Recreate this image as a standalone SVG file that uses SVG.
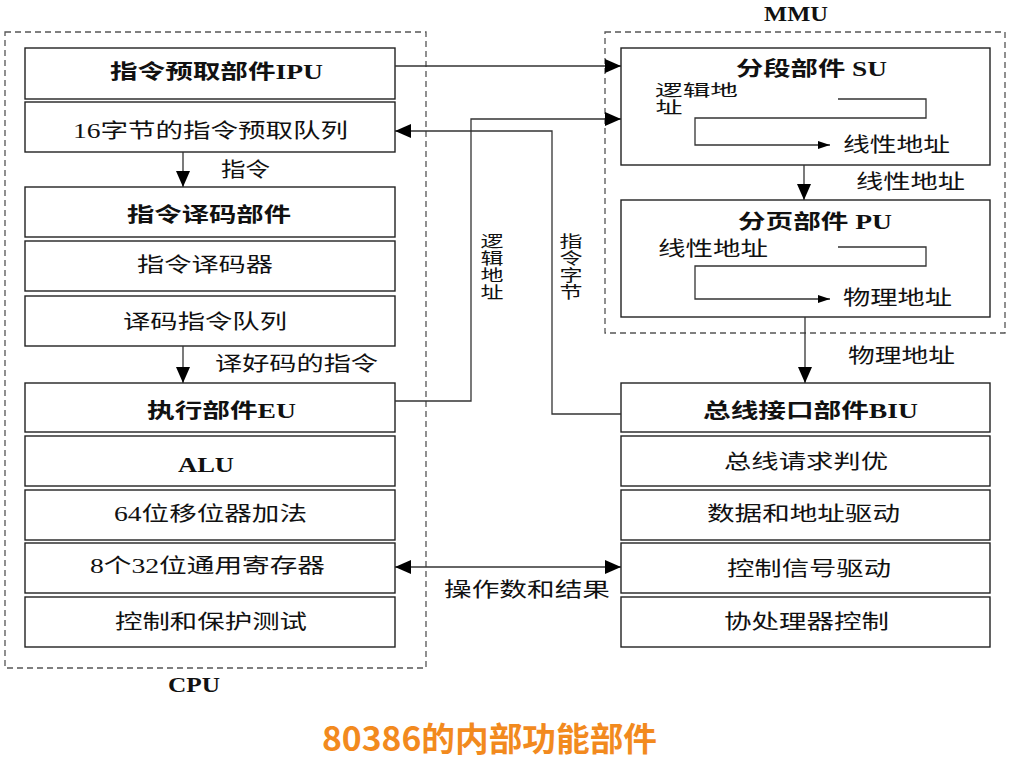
<svg xmlns="http://www.w3.org/2000/svg" width="1011" height="759" viewBox="0 0 1011 759">
<defs>
<marker id="ah" viewBox="0 0 16 14" refX="16" refY="7" markerWidth="16" markerHeight="14" markerUnits="userSpaceOnUse" orient="auto-start-reverse"><path d="M0,0 L16,7 L0,14 Z" fill="#000"/></marker>
<marker id="ahs" viewBox="0 0 12 8" refX="12" refY="4" markerWidth="12" markerHeight="8" markerUnits="userSpaceOnUse" orient="auto"><path d="M0,0 L12,4 L0,8 Z" fill="#000"/></marker>
<style>
.box{fill:#fff;stroke:#222;stroke-width:1.4}
.dash{fill:none;stroke:#555;stroke-width:1.3;stroke-dasharray:6,4}
.ln{fill:none;stroke:#333;stroke-width:1.3}
.t{font-family:"Liberation Serif","Noto Sans CJK SC",serif;font-size:20px;fill:#111;text-anchor:middle;dominant-baseline:central}
.v{font-size:16px}
.b{font-weight:bold}
.title{font-family:"Noto Sans CJK SC","Liberation Sans",sans-serif;font-size:33px;font-weight:bold;fill:#F28A1E;text-anchor:middle;dominant-baseline:central}
</style>
</defs>
<rect width="1011" height="759" fill="#fff"/>

<g id="cpu-frame">
<rect class="dash" x="5" y="32" width="421" height="636"/>
<text class="t b" x="194" y="685" textLength="52" lengthAdjust="spacingAndGlyphs">CPU</text>
</g>
<g id="mmu-frame">
<rect class="dash" x="605" y="32" width="400" height="301"/>
<text class="t b" x="796" y="14" textLength="64" lengthAdjust="spacingAndGlyphs">MMU</text>
</g>

<g id="ipu"><rect class="box" x="25" y="48" width="370" height="51"/><text class="t b" x="216.5" y="72" textLength="213" lengthAdjust="spacingAndGlyphs">指令预取部件IPU</text></g>
<g id="prefetch-queue"><rect class="box" x="25" y="102" width="370" height="50"/><text class="t" x="210.5" y="131" textLength="275" lengthAdjust="spacingAndGlyphs">16字节的指令预取队列</text></g>
<g id="decode-unit"><rect class="box" x="25" y="187" width="370" height="50"/><text class="t b" x="209" y="215" textLength="164" lengthAdjust="spacingAndGlyphs">指令译码部件</text></g>
<g id="decoder"><rect class="box" x="25" y="241" width="370" height="50"/><text class="t" x="205" y="265" textLength="136" lengthAdjust="spacingAndGlyphs">指令译码器</text></g>
<g id="decoded-queue"><rect class="box" x="25" y="296" width="370" height="50"/><text class="t" x="205" y="322" textLength="164" lengthAdjust="spacingAndGlyphs">译码指令队列</text></g>
<g id="eu"><rect class="box" x="25" y="383" width="370" height="49"/><text class="t b" x="221.5" y="411" textLength="149" lengthAdjust="spacingAndGlyphs">执行部件EU</text></g>
<g id="alu"><rect class="box" x="25" y="436" width="370" height="50"/><text class="t b" x="206" y="465" textLength="56" lengthAdjust="spacingAndGlyphs">ALU</text></g>
<g id="shifter"><rect class="box" x="25" y="490" width="370" height="50"/><text class="t" x="210.5" y="514" textLength="193" lengthAdjust="spacingAndGlyphs">64位移位器加法</text></g>
<g id="registers"><rect class="box" x="25" y="543" width="370" height="50"/><text class="t" x="207.5" y="566" textLength="235" lengthAdjust="spacingAndGlyphs">8个32位通用寄存器</text></g>
<g id="protect"><rect class="box" x="25" y="597" width="370" height="50"/><text class="t" x="211" y="622" textLength="192" lengthAdjust="spacingAndGlyphs">控制和保护测试</text></g>

<g id="su">
<rect class="box" x="621" y="48" width="369" height="117"/>
<text class="t b" x="811.5" y="69" textLength="151" lengthAdjust="spacingAndGlyphs">分段部件 SU</text>
<text class="t v" x="696.5" y="90" textLength="83" lengthAdjust="spacingAndGlyphs">逻辑地</text>
<text class="t v" x="669" y="107" textLength="27" lengthAdjust="spacingAndGlyphs">址</text>
<path class="ln" d="M838,99 H926 V118 H695 V145 H830" marker-end="url(#ahs)"/>
<text class="t" x="896.5" y="145" textLength="107" lengthAdjust="spacingAndGlyphs">线性地址</text>
</g>
<g id="pu">
<rect class="box" x="621" y="200" width="369" height="117"/>
<text class="t b" x="815" y="222" textLength="154" lengthAdjust="spacingAndGlyphs">分页部件 PU</text>
<text class="t" x="713" y="249" textLength="110" lengthAdjust="spacingAndGlyphs">线性地址</text>
<path class="ln" d="M838,247 H926 V266 H695 V299 H830" marker-end="url(#ahs)"/>
<text class="t" x="897.5" y="298" textLength="109" lengthAdjust="spacingAndGlyphs">物理地址</text>
</g>

<g id="biu"><rect class="box" x="621" y="383" width="369" height="49"/><text class="t b" x="810.5" y="411" textLength="215" lengthAdjust="spacingAndGlyphs">总线接口部件BIU</text></g>
<g id="bus-arb"><rect class="box" x="621" y="436" width="369" height="50"/><text class="t" x="806" y="462" textLength="164" lengthAdjust="spacingAndGlyphs">总线请求判优</text></g>
<g id="addr-drive"><rect class="box" x="621" y="490" width="369" height="50"/><text class="t" x="803.5" y="514" textLength="193" lengthAdjust="spacingAndGlyphs">数据和地址驱动</text></g>
<g id="ctrl-drive"><rect class="box" x="621" y="543" width="369" height="50"/><text class="t" x="809" y="569" textLength="164" lengthAdjust="spacingAndGlyphs">控制信号驱动</text></g>
<g id="coproc"><rect class="box" x="621" y="597" width="369" height="50"/><text class="t" x="806.5" y="622" textLength="165" lengthAdjust="spacingAndGlyphs">协处理器控制</text></g>

<g id="connectors">
<path class="ln" d="M183,152 V187" marker-end="url(#ah)"/>
<text class="t" x="245.5" y="170" textLength="49" lengthAdjust="spacingAndGlyphs">指令</text>
<path class="ln" d="M183,346 V383" marker-end="url(#ah)"/>
<text class="t" x="296.5" y="364" textLength="163" lengthAdjust="spacingAndGlyphs">译好码的指令</text>
<path class="ln" d="M395,66 H621" marker-end="url(#ah)"/>
<path class="ln" d="M395,401 H471 V119 H621" marker-end="url(#ah)"/>
<text class="t v" x="492" y="241" textLength="23" lengthAdjust="spacingAndGlyphs">逻</text>
<text class="t v" x="492" y="258" textLength="23" lengthAdjust="spacingAndGlyphs">辑</text>
<text class="t v" x="492" y="275" textLength="23" lengthAdjust="spacingAndGlyphs">地</text>
<text class="t v" x="492" y="292" textLength="23" lengthAdjust="spacingAndGlyphs">址</text>
<path class="ln" d="M621,414 H552 V131 H395" marker-end="url(#ah)"/>
<text class="t v" x="571" y="241" textLength="23" lengthAdjust="spacingAndGlyphs">指</text>
<text class="t v" x="571" y="258" textLength="23" lengthAdjust="spacingAndGlyphs">令</text>
<text class="t v" x="571" y="275" textLength="23" lengthAdjust="spacingAndGlyphs">字</text>
<text class="t v" x="571" y="292" textLength="23" lengthAdjust="spacingAndGlyphs">节</text>
<path class="ln" d="M804,165 V200" marker-end="url(#ah)"/>
<text class="t" x="910.5" y="182" textLength="109" lengthAdjust="spacingAndGlyphs">线性地址</text>
<path class="ln" d="M805,317 V383" marker-end="url(#ah)"/>
<text class="t" x="901.5" y="356" textLength="107" lengthAdjust="spacingAndGlyphs">物理地址</text>
<path class="ln" d="M395,567 H621" marker-start="url(#ah)" marker-end="url(#ah)"/>
<text class="t" x="527" y="590" textLength="166" lengthAdjust="spacingAndGlyphs">操作数和结果</text>
</g>

<text class="title" x="489.5" y="737" textLength="335" lengthAdjust="spacingAndGlyphs">80386的内部功能部件</text>
</svg>
